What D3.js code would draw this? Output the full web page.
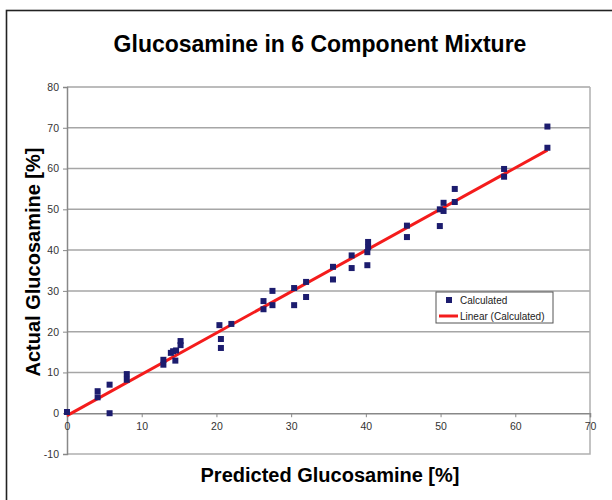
<!DOCTYPE html>
<html>
<head>
<meta charset="utf-8">
<script src="https://cdn.jsdelivr.net/npm/d3@7"></script>
<style>
  body { margin: 0; background: #fff; }
  svg { display: block; font-family: "Liberation Sans", Arial, sans-serif; }
  .tick text { fill: #333; font-size: 10.5px; }
</style>
</head>
<body>
<svg id="chart" width="612" height="500"></svg>
<script>
//------------------------------------------------------------
// Data
const predicted = [0, 4.1, 4.1, 5.7, 5.7, 8.0, 8.0, 12.9, 12.9, 13.9, 14.2, 14.5, 14.6, 15.2, 15.2,
  20.4, 20.6, 20.6, 22.0, 26.3, 26.3, 27.5, 27.5, 30.4, 30.4, 32.0, 32.0, 35.6, 35.6, 38.1, 38.1,
  40.2, 40.3, 40.3, 40.2, 45.5, 45.5, 49.9, 49.9, 50.4, 50.4, 51.9, 51.9, 58.5, 58.5, 64.3, 64.3];
const actual = [0.3, 5.4, 3.9, 7.0, 0.0, 9.6, 8.2, 13.1, 11.9, 14.8, 15.2, 12.9, 15.4, 17.7, 16.7,
  21.6, 18.2, 16.0, 21.9, 27.5, 25.5, 30.0, 26.5, 30.7, 26.5, 32.2, 28.5, 35.9, 32.8, 38.7, 35.6,
  36.3, 42.0, 40.7, 39.5, 46.0, 43.2, 45.9, 50.0, 51.6, 49.6, 55.0, 51.8, 59.9, 58.0, 70.3, 65.1];
const xTicks = [0, 10, 20, 30, 40, 50, 60, 70];
const yTicks = [-10, 0, 10, 20, 30, 40, 50, 60, 70, 80];
const legendLabels = ["Calculated", "Linear (Calculated)"];

const points = predicted.map((p, i) => ({ x: p, y: actual[i] }));

//------------------------------------------------------------
// Least squares fit (Excel linear trendline)
const mx = d3.mean(points, d => d.x), my = d3.mean(points, d => d.y);
const slope = d3.sum(points, d => (d.x - mx) * (d.y - my)) / d3.sum(points, d => (d.x - mx) ** 2);
const icpt = my - slope * mx;
const [xmin, xmax] = d3.extent(points, d => d.x);
const fit = [xmin, xmax].map(v => ({ x: v, y: icpt + slope * v }));

//------------------------------------------------------------
// Setup
const svg = d3.select("#chart");
const x = d3.scaleLinear().domain([0, 70]).range([67, 590]);
const y = d3.scaleLinear().domain([-10, 80]).range([454, 87]);

// outer chart frame (runs off right/bottom)
svg.append("rect")
  .attr("x", 6.5).attr("y", 10.5)
  .attr("width", 640).attr("height", 520)
  .attr("fill", "none").attr("stroke", "#222").attr("stroke-width", 1.6);

// gridlines
svg.append("g")
  .selectAll("line")
  .data(yTicks.filter(v => v > 0))
  .join("line")
  .attr("x1", x(0)).attr("x2", x(70))
  .attr("y1", d => y(d)).attr("y2", d => y(d))
  .attr("stroke", "#a6a6a6").attr("stroke-width", 1.5);

// plot area bottom/right border
svg.append("path")
  .attr("d", `M${x(0)},${y(-10)}H${x(70)}V${y(80)}`)
  .attr("fill", "none").attr("stroke", "#b0b0b0").attr("stroke-width", 1.5);

// Axes (plain hyphen minus like the original)
const fmt = d => String(d);
const yAxis = svg.append("g")
  .attr("transform", `translate(${x(0)},0)`)
  .call(d3.axisLeft(y).tickValues(yTicks).tickFormat(fmt).tickSize(4).tickPadding(4));
const xAxis = svg.append("g")
  .attr("transform", `translate(0,${y(0)})`)
  .call(d3.axisBottom(x).tickValues(xTicks).tickFormat(fmt).tickSize(4).tickPadding(5));
[xAxis, yAxis].forEach(a => {
  a.select(".domain").attr("stroke", "#888").attr("stroke-width", 1.5);
  a.selectAll(".tick line").attr("stroke", "#888");
});

// Trendline
svg.append("path")
  .datum(fit)
  .attr("fill", "none")
  .attr("stroke", "#f41c1c")
  .attr("stroke-width", 3)
  .attr("d", d3.line().x(d => x(d.x)).y(d => y(d.y)));

// Markers
svg.append("g")
  .selectAll("rect")
  .data(points)
  .join("rect")
  .attr("x", d => x(d.x) - 3)
  .attr("y", d => y(d.y) - 3)
  .attr("width", 6).attr("height", 6)
  .attr("fill", "#1c1c6e");

// Titles
svg.append("text")
  .attr("x", 320).attr("y", 52)
  .attr("text-anchor", "middle")
  .style("font-size", "23px").style("font-weight", "bold")
  .text("Glucosamine in 6 Component Mixture");

svg.append("text")
  .attr("x", 330).attr("y", 482)
  .attr("text-anchor", "middle")
  .style("font-size", "20px").style("font-weight", "bold")
  .text("Predicted Glucosamine [%]");

svg.append("text")
  .attr("transform", "rotate(-90)")
  .attr("x", -262).attr("y", 40)
  .attr("text-anchor", "middle")
  .style("font-size", "20px").style("font-weight", "bold")
  .text("Actual Glucosamine [%]");

//------------------------------------------------------------
// Legend
const lg = svg.append("g").attr("transform", "translate(436,292)");
lg.append("rect")
  .attr("width", 117).attr("height", 31)
  .attr("fill", "#fff").attr("stroke", "#555").attr("stroke-width", 1);
lg.append("rect")
  .attr("x", 10).attr("y", 5).attr("width", 6).attr("height", 6)
  .attr("fill", "#1c1c6e");
lg.append("line")
  .attr("x1", 3).attr("x2", 22).attr("y1", 24).attr("y2", 24)
  .attr("stroke", "#f41c1c").attr("stroke-width", 3);
lg.selectAll("text.lbl")
  .data(legendLabels)
  .join("text")
  .attr("class", "lbl")
  .attr("x", 24)
  .attr("y", (d, i) => 12 + i * 16)
  .style("font-size", "10px")
  .attr("fill", "#222")
  .text(d => d);
</script>
</body>
</html>
